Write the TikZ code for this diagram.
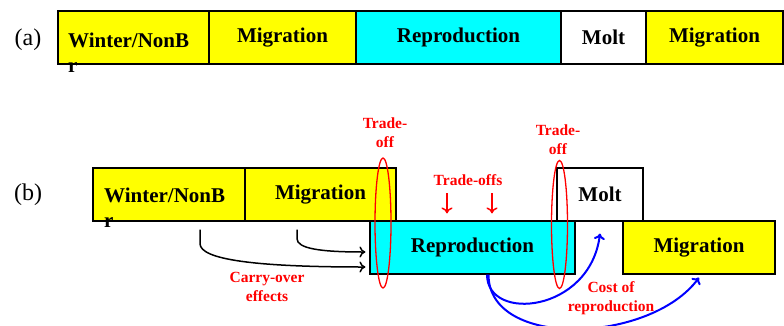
\documentclass[tikz,border=0pt]{standalone}
\usepackage{fontspec}
\setmainfont{Liberation Serif}
\usetikzlibrary{arrows.meta}

\definecolor{phaseyellow}{RGB}{255,255,0}
\definecolor{phasecyan}{RGB}{0,255,255}
\definecolor{notered}{RGB}{255,0,0}
\definecolor{costblue}{RGB}{0,0,255}

\tikzset{
  lbl/.style={font=\fontsize{21}{25}\selectfont\bfseries, inner sep=0pt},
  phase/.style={lbl, draw=black, line width=1.2pt, minimum height=53pt},
  note/.style={text=notered, align=center, font=\fontsize{15.5}{19}\selectfont\bfseries},
  carry/.style={draw=black, line width=1.5pt, -{To[length=6pt,width=11pt]}},
  cost/.style={draw=costblue, line width=2pt, -{To[length=6pt,width=11pt]}},
  push/.style={draw=notered, line width=1.5pt, -{To[length=6pt,width=11pt]}},
  ring/.style={draw=notered, line width=1.3pt}
}

\begin{document}
\begin{tikzpicture}[x=1pt, y=-1pt]
    \useasboundingbox (0,0) rectangle (784,325);
    \node[font=\fontsize{24}{28}\selectfont] (la) at (28,40) {(a)};
    \foreach \n/\xa/\xb/\c/\t in {aw/58/209/phaseyellow/{}, am/209/356/phaseyellow/Migration,
        ar/356/561/phasecyan/Reproduction, ao/561/646/white/Molt, an/646/783/phaseyellow/Migration}
        \node[phase, fill=\c, minimum width={(\xb-\xa)*1pt}] (\n) at ({(\xa+\xb)/2},37.5) {\t};
    \node[lbl, anchor=base west, align=left] (awt) at (68,72) {Winter/NonB\\r};

    \node[font=\fontsize{24}{28}\selectfont] (lb) at (28,195) {(b)};
    \node[phase, fill=phaseyellow, minimum width=152pt] (bw) at (169,194.5) {};
    \node[phase, fill=phaseyellow, minimum width=151pt] (bm) at (320.5,194.5) {Migration};
    \node[phase, fill=phasecyan, minimum width=205pt] (br) at (472.5,247.5) {Reproduction};
    \node[phase, fill=white, minimum width=86pt] (bo) at (600,194.5) {Molt};
    \node[phase, fill=phaseyellow, minimum width=152pt] (bn) at (699,247.5) {Migration};
    \node[lbl, anchor=base west, align=left] (bwt) at (104,227) {Winter/NonB\\r};

    \draw[ring] (383,223) ellipse [x radius=8, y radius=65];
    \draw[ring] (559.5,224.5) ellipse [x radius=8, y radius=64];

    \node[note] (to1) at (385,133) {Trade-\\off};
    \node[note] (to2) at (558,140) {Trade-\\off};
    \node[note] (tos) at (468,180) {Trade-offs};
    \node[note] (co) at (267,287) {Carry-over\\effects};
    \node[note] (cr) at (611,298.5) {Cost of\\reproduction};

    \foreach \s in {-21,24}
        \draw[push, shorten <=4pt, shorten >=7pt] ([xshift=\s pt]tos.south)
            -- ([xshift=\s pt]tos.south |- br.north);

    \draw[carry] ([xshift=31pt,yshift=-8pt]bw.south) -- ++(0,14)
        .. controls +(0,16) and +(-110,0) .. ([xshift=-4pt,yshift=-19.5pt]br.west);
    \draw[carry] ([xshift=-23.5pt,yshift=-8pt]bm.south) -- ++(0,9)
        .. controls +(0,10) and +(-45,0) .. ([xshift=-4pt,yshift=-4.5pt]br.west);

    \draw[cost] ([xshift=14.5pt]br.south)
        .. controls +(0,48) and +(-10,79) .. ([yshift=-12pt]bo.south);
    \draw[cost] ([xshift=16pt]br.south)
        .. controls +(0,75) and +(-49,66) .. ([yshift=-3pt]bn.south);
\end{tikzpicture}
\end{document}
